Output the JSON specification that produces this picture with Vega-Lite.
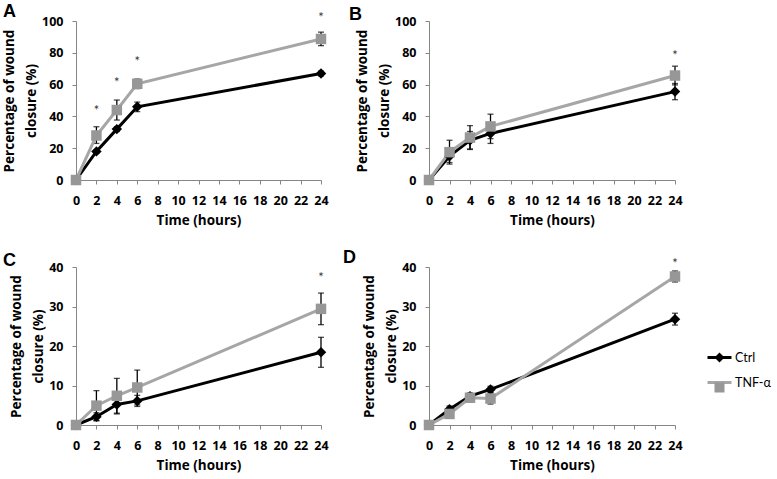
{
  "$schema": "https://vega.github.io/schema/vega-lite/v6.json",
  "autosize": {"type": "none"},
  "padding": {"left": 76, "top": 21, "right": 701, "bottom": 458},
  "background": "white",
  "config": {
    "view": {"stroke": null},
    "axis": {"domainColor": "#868686", "tickColor": "#868686", "tickSize": 4, "grid": false, "labelFont": "Open Sans", "labelFontSize": 12.5, "labelFontWeight": "bold", "labelColor": "#000", "titleFont": "Open Sans", "titleFontSize": 13.5, "titleFontWeight": "bold", "titleColor": "#000", "labelFlush": false, "labelOverlap": false},
    "title": {"font": "Liberation Sans", "fontSize": 18, "fontWeight": "bold", "color": "#000", "anchor": "start", "frame": "group"}
  },
  "datasets": {
    "pts": [
      {"panel": "A", "t": 0, "group": "Ctrl", "mean": 0, "lo": 0, "hi": 0},
      {"panel": "A", "t": 2, "group": "Ctrl", "mean": 18, "lo": 17, "hi": 19},
      {"panel": "A", "t": 4, "group": "Ctrl", "mean": 32, "lo": 30.5, "hi": 33.5},
      {"panel": "A", "t": 6, "group": "Ctrl", "mean": 46, "lo": 43, "hi": 49},
      {"panel": "A", "t": 24, "group": "Ctrl", "mean": 67, "lo": 65.5, "hi": 68.5},
      {"panel": "A", "t": 0, "group": "TNF-α", "mean": 0, "lo": 0, "hi": 0},
      {"panel": "A", "t": 2, "group": "TNF-α", "mean": 28, "lo": 23, "hi": 33.5},
      {"panel": "A", "t": 4, "group": "TNF-α", "mean": 44, "lo": 37.7, "hi": 50.3},
      {"panel": "A", "t": 6, "group": "TNF-α", "mean": 60.5, "lo": 57.5, "hi": 63.5},
      {"panel": "A", "t": 24, "group": "TNF-α", "mean": 88.7, "lo": 84.5, "hi": 93},
      {"panel": "B", "t": 0, "group": "Ctrl", "mean": 0, "lo": 0, "hi": 0},
      {"panel": "B", "t": 2, "group": "Ctrl", "mean": 15, "lo": 11, "hi": 19},
      {"panel": "B", "t": 4, "group": "Ctrl", "mean": 25, "lo": 19.5, "hi": 30.5},
      {"panel": "B", "t": 6, "group": "Ctrl", "mean": 29.3, "lo": 23, "hi": 35.6},
      {"panel": "B", "t": 24, "group": "Ctrl", "mean": 55.6, "lo": 50.5, "hi": 60.7},
      {"panel": "B", "t": 0, "group": "TNF-α", "mean": 0, "lo": 0, "hi": 0},
      {"panel": "B", "t": 2, "group": "TNF-α", "mean": 17.5, "lo": 10, "hi": 25},
      {"panel": "B", "t": 4, "group": "TNF-α", "mean": 26.7, "lo": 19.2, "hi": 34.2},
      {"panel": "B", "t": 6, "group": "TNF-α", "mean": 33.7, "lo": 26, "hi": 41.4},
      {"panel": "B", "t": 24, "group": "TNF-α", "mean": 65.7, "lo": 59.8, "hi": 71.6},
      {"panel": "C", "t": 0, "group": "Ctrl", "mean": 0, "lo": 0, "hi": 0},
      {"panel": "C", "t": 2, "group": "Ctrl", "mean": 2.1, "lo": 1.1, "hi": 3.1},
      {"panel": "C", "t": 4, "group": "Ctrl", "mean": 5.2, "lo": 2.8, "hi": 7.6},
      {"panel": "C", "t": 6, "group": "Ctrl", "mean": 6.1, "lo": 4.7, "hi": 7.5},
      {"panel": "C", "t": 24, "group": "Ctrl", "mean": 18.4, "lo": 14.6, "hi": 22.2},
      {"panel": "C", "t": 0, "group": "TNF-α", "mean": 0, "lo": 0, "hi": 0},
      {"panel": "C", "t": 2, "group": "TNF-α", "mean": 4.9, "lo": 1.1, "hi": 8.7},
      {"panel": "C", "t": 4, "group": "TNF-α", "mean": 7.4, "lo": 3, "hi": 11.8},
      {"panel": "C", "t": 6, "group": "TNF-α", "mean": 9.5, "lo": 5.1, "hi": 13.9},
      {"panel": "C", "t": 24, "group": "TNF-α", "mean": 29.4, "lo": 25.4, "hi": 33.4},
      {"panel": "D", "t": 0, "group": "Ctrl", "mean": 0, "lo": 0, "hi": 0},
      {"panel": "D", "t": 2, "group": "Ctrl", "mean": 4, "lo": 3.2, "hi": 4.8},
      {"panel": "D", "t": 4, "group": "Ctrl", "mean": 7.3, "lo": 6.5, "hi": 8.1},
      {"panel": "D", "t": 6, "group": "Ctrl", "mean": 9, "lo": 8.2, "hi": 9.8},
      {"panel": "D", "t": 24, "group": "Ctrl", "mean": 26.8, "lo": 25.3, "hi": 28.3},
      {"panel": "D", "t": 0, "group": "TNF-α", "mean": 0, "lo": 0, "hi": 0},
      {"panel": "D", "t": 2, "group": "TNF-α", "mean": 2.8, "lo": 2, "hi": 3.6},
      {"panel": "D", "t": 4, "group": "TNF-α", "mean": 6.9, "lo": 6.1, "hi": 7.7},
      {"panel": "D", "t": 6, "group": "TNF-α", "mean": 6.7, "lo": 5.3, "hi": 8.1},
      {"panel": "D", "t": 24, "group": "TNF-α", "mean": 37.6, "lo": 36.2, "hi": 39}
    ],
    "stars": [
      {"panel": "A", "t": 2, "y": 45},
      {"panel": "A", "t": 4, "y": 63},
      {"panel": "A", "t": 6, "y": 76},
      {"panel": "A", "t": 24, "y": 104},
      {"panel": "B", "t": 24, "y": 80},
      {"panel": "C", "t": 24, "y": 38},
      {"panel": "D", "t": 24, "y": 41.5}
    ]
  },
  "columns": 2,
  "spacing": {"row": 87, "column": 108},
  "bounds": "flush",
  "concat": [
    {
      "width": 245, "height": 159,
      "title": {"text": "A", "dx": -73, "offset": 0, "dy": 9},
      "layer": [
        {"data": {"name": "pts"}, "transform": [{"filter": "datum.panel === 'A' && datum.hi > datum.lo"}],
         "mark": {"type": "errorbar", "color": "#000", "thickness": 1.3, "ticks": {"size": 6, "thickness": 1.3}},
         "encoding": {
           "x": {"field": "t", "type": "quantitative", "title": "Time (hours)", "scale": {"domain": [0, 24], "nice": false, "zero": false}, "axis": {"values": [0,2,4,6,8,10,12,14,16,18,20,22,24], "labelPadding": 10, "titlePadding": 7}},
           "y": {"field": "lo", "type": "quantitative", "title": ["Percentage of wound", "closure (%)"], "scale": {"domain": [0, 100], "nice": false}, "axis": {"values": [0,20,40,60,80,100], "labelPadding": 9, "titlePadding": 3, "titleLineHeight": 22}},
           "y2": {"field": "hi"}}},
        {"data": {"name": "pts"}, "transform": [{"filter": "datum.panel === 'A'"}],
         "mark": {"type": "line", "strokeWidth": 3},
         "encoding": {
           "x": {"field": "t", "type": "quantitative", "title": "Time (hours)", "scale": {"domain": [0, 24], "nice": false, "zero": false}, "axis": {"values": [0,2,4,6,8,10,12,14,16,18,20,22,24], "labelPadding": 10, "titlePadding": 7}},
           "y": {"field": "mean", "type": "quantitative", "title": ["Percentage of wound", "closure (%)"], "scale": {"domain": [0, 100], "nice": false}, "axis": {"values": [0,20,40,60,80,100], "labelPadding": 9, "titlePadding": 3, "titleLineHeight": 22}},
           "stroke": {"field": "group", "type": "nominal", "scale": {"domain": ["Ctrl", "TNF-α"], "range": ["#000000", "#a6a6a6"]}, "legend": {"orient": "none", "legendX": 630, "legendY": 323, "title": null, "symbolType": "stroke", "symbolSize": 576, "symbolStrokeWidth": 3, "labelFont": "Lato", "labelFontSize": 12.5, "labelColor": "#000", "labelOffset": 2, "rowPadding": 5}}}},
        {"data": {"name": "pts"}, "transform": [{"filter": "datum.panel === 'A'"}],
         "mark": {"type": "point", "filled": true, "opacity": 1, "size": 110, "strokeWidth": 0},
         "encoding": {
           "x": {"field": "t", "type": "quantitative", "title": "Time (hours)", "scale": {"domain": [0, 24], "nice": false, "zero": false}, "axis": {"values": [0,2,4,6,8,10,12,14,16,18,20,22,24], "labelPadding": 10, "titlePadding": 7}},
           "y": {"field": "mean", "type": "quantitative", "title": ["Percentage of wound", "closure (%)"], "scale": {"domain": [0, 100], "nice": false}, "axis": {"values": [0,20,40,60,80,100], "labelPadding": 9, "titlePadding": 3, "titleLineHeight": 22}},
           "fill": {"field": "group", "type": "nominal", "scale": {"range": ["#000000", "#979797"]}, "legend": {"orient": "none", "legendX": 637, "legendY": 330, "title": null, "labelExpr": "''", "labelFontSize": 13, "rowPadding": 16, "symbolStrokeWidth": 0}},
           "shape": {"field": "group", "type": "nominal", "scale": {"range": ["diamond", "square"]}, "legend": {"orient": "none", "legendX": 637, "legendY": 330, "title": null, "labelExpr": "''", "labelFontSize": 13, "rowPadding": 16, "symbolStrokeWidth": 0}}}},
        {"data": {"name": "stars"}, "transform": [{"filter": "datum.panel === 'A'"}],
         "mark": {"type": "text", "text": "*", "font": "Lato", "fontSize": 13, "color": "#333", "baseline": "middle", "dy": 3},
         "encoding": {
           "x": {"field": "t", "type": "quantitative", "title": "Time (hours)", "scale": {"domain": [0, 24], "nice": false, "zero": false}, "axis": {"values": [0,2,4,6,8,10,12,14,16,18,20,22,24], "labelPadding": 10, "titlePadding": 7}},
           "y": {"field": "y", "type": "quantitative", "title": ["Percentage of wound", "closure (%)"], "scale": {"domain": [0, 100], "nice": false}, "axis": {"values": [0,20,40,60,80,100], "labelPadding": 9, "titlePadding": 3, "titleLineHeight": 22}}}}
      ]
    },
    {
      "width": 246, "height": 159,
      "title": {"text": "B", "dx": -80, "offset": 0, "dy": 9},
      "layer": [
        {"data": {"name": "pts"}, "transform": [{"filter": "datum.panel === 'B' && datum.hi > datum.lo"}],
         "mark": {"type": "errorbar", "color": "#000", "thickness": 1.3, "ticks": {"size": 6, "thickness": 1.3}},
         "encoding": {
           "x": {"field": "t", "type": "quantitative", "title": "Time (hours)", "scale": {"domain": [0, 24], "nice": false, "zero": false}, "axis": {"values": [0,2,4,6,8,10,12,14,16,18,20,22,24], "labelPadding": 10, "titlePadding": 7}},
           "y": {"field": "lo", "type": "quantitative", "title": ["Percentage of wound", "closure (%)"], "scale": {"domain": [0, 100], "nice": false}, "axis": {"values": [0,20,40,60,80,100], "labelPadding": 9, "titlePadding": 3, "titleLineHeight": 22}},
           "y2": {"field": "hi"}}},
        {"data": {"name": "pts"}, "transform": [{"filter": "datum.panel === 'B'"}],
         "mark": {"type": "line", "strokeWidth": 3},
         "encoding": {
           "x": {"field": "t", "type": "quantitative", "title": "Time (hours)", "scale": {"domain": [0, 24], "nice": false, "zero": false}, "axis": {"values": [0,2,4,6,8,10,12,14,16,18,20,22,24], "labelPadding": 10, "titlePadding": 7}},
           "y": {"field": "mean", "type": "quantitative", "title": ["Percentage of wound", "closure (%)"], "scale": {"domain": [0, 100], "nice": false}, "axis": {"values": [0,20,40,60,80,100], "labelPadding": 9, "titlePadding": 3, "titleLineHeight": 22}},
           "stroke": {"field": "group", "type": "nominal", "scale": {"domain": ["Ctrl", "TNF-α"], "range": ["#000000", "#a6a6a6"]}, "legend": {"orient": "none", "legendX": 630, "legendY": 323, "title": null, "symbolType": "stroke", "symbolSize": 576, "symbolStrokeWidth": 3, "labelFont": "Lato", "labelFontSize": 12.5, "labelColor": "#000", "labelOffset": 2, "rowPadding": 5}}}},
        {"data": {"name": "pts"}, "transform": [{"filter": "datum.panel === 'B'"}],
         "mark": {"type": "point", "filled": true, "opacity": 1, "size": 110, "strokeWidth": 0},
         "encoding": {
           "x": {"field": "t", "type": "quantitative", "title": "Time (hours)", "scale": {"domain": [0, 24], "nice": false, "zero": false}, "axis": {"values": [0,2,4,6,8,10,12,14,16,18,20,22,24], "labelPadding": 10, "titlePadding": 7}},
           "y": {"field": "mean", "type": "quantitative", "title": ["Percentage of wound", "closure (%)"], "scale": {"domain": [0, 100], "nice": false}, "axis": {"values": [0,20,40,60,80,100], "labelPadding": 9, "titlePadding": 3, "titleLineHeight": 22}},
           "fill": {"field": "group", "type": "nominal", "scale": {"range": ["#000000", "#979797"]}, "legend": {"orient": "none", "legendX": 637, "legendY": 330, "title": null, "labelExpr": "''", "labelFontSize": 13, "rowPadding": 16, "symbolStrokeWidth": 0}},
           "shape": {"field": "group", "type": "nominal", "scale": {"range": ["diamond", "square"]}, "legend": {"orient": "none", "legendX": 637, "legendY": 330, "title": null, "labelExpr": "''", "labelFontSize": 13, "rowPadding": 16, "symbolStrokeWidth": 0}}}},
        {"data": {"name": "stars"}, "transform": [{"filter": "datum.panel === 'B'"}],
         "mark": {"type": "text", "text": "*", "font": "Lato", "fontSize": 13, "color": "#333", "baseline": "middle", "dy": 3},
         "encoding": {
           "x": {"field": "t", "type": "quantitative", "title": "Time (hours)", "scale": {"domain": [0, 24], "nice": false, "zero": false}, "axis": {"values": [0,2,4,6,8,10,12,14,16,18,20,22,24], "labelPadding": 10, "titlePadding": 7}},
           "y": {"field": "y", "type": "quantitative", "title": ["Percentage of wound", "closure (%)"], "scale": {"domain": [0, 100], "nice": false}, "axis": {"values": [0,20,40,60,80,100], "labelPadding": 9, "titlePadding": 3, "titleLineHeight": 22}}}}
      ]
    },
    {
      "width": 245, "height": 158,
      "title": {"text": "C", "dx": -73, "offset": 0, "dy": 9},
      "layer": [
        {"data": {"name": "pts"}, "transform": [{"filter": "datum.panel === 'C' && datum.hi > datum.lo"}],
         "mark": {"type": "errorbar", "color": "#000", "thickness": 1.3, "ticks": {"size": 6, "thickness": 1.3}},
         "encoding": {
           "x": {"field": "t", "type": "quantitative", "title": "Time (hours)", "scale": {"domain": [0, 24], "nice": false, "zero": false}, "axis": {"values": [0,2,4,6,8,10,12,14,16,18,20,22,24], "labelPadding": 10, "titlePadding": 7}},
           "y": {"field": "lo", "type": "quantitative", "title": ["Percentage of wound", "closure (%)"], "scale": {"domain": [0, 40], "nice": false}, "axis": {"values": [0,10,20,30,40], "labelPadding": 9, "titlePadding": 3, "titleLineHeight": 22}},
           "y2": {"field": "hi"}}},
        {"data": {"name": "pts"}, "transform": [{"filter": "datum.panel === 'C'"}],
         "mark": {"type": "line", "strokeWidth": 3},
         "encoding": {
           "x": {"field": "t", "type": "quantitative", "title": "Time (hours)", "scale": {"domain": [0, 24], "nice": false, "zero": false}, "axis": {"values": [0,2,4,6,8,10,12,14,16,18,20,22,24], "labelPadding": 10, "titlePadding": 7}},
           "y": {"field": "mean", "type": "quantitative", "title": ["Percentage of wound", "closure (%)"], "scale": {"domain": [0, 40], "nice": false}, "axis": {"values": [0,10,20,30,40], "labelPadding": 9, "titlePadding": 3, "titleLineHeight": 22}},
           "stroke": {"field": "group", "type": "nominal", "scale": {"domain": ["Ctrl", "TNF-α"], "range": ["#000000", "#a6a6a6"]}, "legend": {"orient": "none", "legendX": 630, "legendY": 323, "title": null, "symbolType": "stroke", "symbolSize": 576, "symbolStrokeWidth": 3, "labelFont": "Lato", "labelFontSize": 12.5, "labelColor": "#000", "labelOffset": 2, "rowPadding": 5}}}},
        {"data": {"name": "pts"}, "transform": [{"filter": "datum.panel === 'C'"}],
         "mark": {"type": "point", "filled": true, "opacity": 1, "size": 110, "strokeWidth": 0},
         "encoding": {
           "x": {"field": "t", "type": "quantitative", "title": "Time (hours)", "scale": {"domain": [0, 24], "nice": false, "zero": false}, "axis": {"values": [0,2,4,6,8,10,12,14,16,18,20,22,24], "labelPadding": 10, "titlePadding": 7}},
           "y": {"field": "mean", "type": "quantitative", "title": ["Percentage of wound", "closure (%)"], "scale": {"domain": [0, 40], "nice": false}, "axis": {"values": [0,10,20,30,40], "labelPadding": 9, "titlePadding": 3, "titleLineHeight": 22}},
           "fill": {"field": "group", "type": "nominal", "scale": {"range": ["#000000", "#979797"]}, "legend": {"orient": "none", "legendX": 637, "legendY": 330, "title": null, "labelExpr": "''", "labelFontSize": 13, "rowPadding": 16, "symbolStrokeWidth": 0}},
           "shape": {"field": "group", "type": "nominal", "scale": {"range": ["diamond", "square"]}, "legend": {"orient": "none", "legendX": 637, "legendY": 330, "title": null, "labelExpr": "''", "labelFontSize": 13, "rowPadding": 16, "symbolStrokeWidth": 0}}}},
        {"data": {"name": "stars"}, "transform": [{"filter": "datum.panel === 'C'"}],
         "mark": {"type": "text", "text": "*", "font": "Lato", "fontSize": 13, "color": "#333", "baseline": "middle", "dy": 3},
         "encoding": {
           "x": {"field": "t", "type": "quantitative", "title": "Time (hours)", "scale": {"domain": [0, 24], "nice": false, "zero": false}, "axis": {"values": [0,2,4,6,8,10,12,14,16,18,20,22,24], "labelPadding": 10, "titlePadding": 7}},
           "y": {"field": "y", "type": "quantitative", "title": ["Percentage of wound", "closure (%)"], "scale": {"domain": [0, 40], "nice": false}, "axis": {"values": [0,10,20,30,40], "labelPadding": 9, "titlePadding": 3, "titleLineHeight": 22}}}}
      ]
    },
    {
      "width": 246, "height": 158,
      "title": {"text": "D", "dx": -86, "offset": 0, "dy": 9},
      "layer": [
        {"data": {"name": "pts"}, "transform": [{"filter": "datum.panel === 'D' && datum.hi > datum.lo"}],
         "mark": {"type": "errorbar", "color": "#000", "thickness": 1.3, "ticks": {"size": 6, "thickness": 1.3}},
         "encoding": {
           "x": {"field": "t", "type": "quantitative", "title": "Time (hours)", "scale": {"domain": [0, 24], "nice": false, "zero": false}, "axis": {"values": [0,2,4,6,8,10,12,14,16,18,20,22,24], "labelPadding": 10, "titlePadding": 7}},
           "y": {"field": "lo", "type": "quantitative", "title": ["Percentage of wound", "closure (%)"], "scale": {"domain": [0, 40], "nice": false}, "axis": {"values": [0,10,20,30,40], "labelPadding": 9, "titlePadding": 3, "titleLineHeight": 22}},
           "y2": {"field": "hi"}}},
        {"data": {"name": "pts"}, "transform": [{"filter": "datum.panel === 'D'"}],
         "mark": {"type": "line", "strokeWidth": 3},
         "encoding": {
           "x": {"field": "t", "type": "quantitative", "title": "Time (hours)", "scale": {"domain": [0, 24], "nice": false, "zero": false}, "axis": {"values": [0,2,4,6,8,10,12,14,16,18,20,22,24], "labelPadding": 10, "titlePadding": 7}},
           "y": {"field": "mean", "type": "quantitative", "title": ["Percentage of wound", "closure (%)"], "scale": {"domain": [0, 40], "nice": false}, "axis": {"values": [0,10,20,30,40], "labelPadding": 9, "titlePadding": 3, "titleLineHeight": 22}},
           "stroke": {"field": "group", "type": "nominal", "scale": {"domain": ["Ctrl", "TNF-α"], "range": ["#000000", "#a6a6a6"]}, "legend": {"orient": "none", "legendX": 630, "legendY": 323, "title": null, "symbolType": "stroke", "symbolSize": 576, "symbolStrokeWidth": 3, "labelFont": "Lato", "labelFontSize": 12.5, "labelColor": "#000", "labelOffset": 2, "rowPadding": 5}}}},
        {"data": {"name": "pts"}, "transform": [{"filter": "datum.panel === 'D'"}],
         "mark": {"type": "point", "filled": true, "opacity": 1, "size": 110, "strokeWidth": 0},
         "encoding": {
           "x": {"field": "t", "type": "quantitative", "title": "Time (hours)", "scale": {"domain": [0, 24], "nice": false, "zero": false}, "axis": {"values": [0,2,4,6,8,10,12,14,16,18,20,22,24], "labelPadding": 10, "titlePadding": 7}},
           "y": {"field": "mean", "type": "quantitative", "title": ["Percentage of wound", "closure (%)"], "scale": {"domain": [0, 40], "nice": false}, "axis": {"values": [0,10,20,30,40], "labelPadding": 9, "titlePadding": 3, "titleLineHeight": 22}},
           "fill": {"field": "group", "type": "nominal", "scale": {"range": ["#000000", "#979797"]}, "legend": {"orient": "none", "legendX": 637, "legendY": 330, "title": null, "labelExpr": "''", "labelFontSize": 13, "rowPadding": 16, "symbolStrokeWidth": 0}},
           "shape": {"field": "group", "type": "nominal", "scale": {"range": ["diamond", "square"]}, "legend": {"orient": "none", "legendX": 637, "legendY": 330, "title": null, "labelExpr": "''", "labelFontSize": 13, "rowPadding": 16, "symbolStrokeWidth": 0}}}},
        {"data": {"name": "stars"}, "transform": [{"filter": "datum.panel === 'D'"}],
         "mark": {"type": "text", "text": "*", "font": "Lato", "fontSize": 13, "color": "#333", "baseline": "middle", "dy": 3},
         "encoding": {
           "x": {"field": "t", "type": "quantitative", "title": "Time (hours)", "scale": {"domain": [0, 24], "nice": false, "zero": false}, "axis": {"values": [0,2,4,6,8,10,12,14,16,18,20,22,24], "labelPadding": 10, "titlePadding": 7}},
           "y": {"field": "y", "type": "quantitative", "title": ["Percentage of wound", "closure (%)"], "scale": {"domain": [0, 40], "nice": false}, "axis": {"values": [0,10,20,30,40], "labelPadding": 9, "titlePadding": 3, "titleLineHeight": 22}}}}
      ]
    }
  ]
}
